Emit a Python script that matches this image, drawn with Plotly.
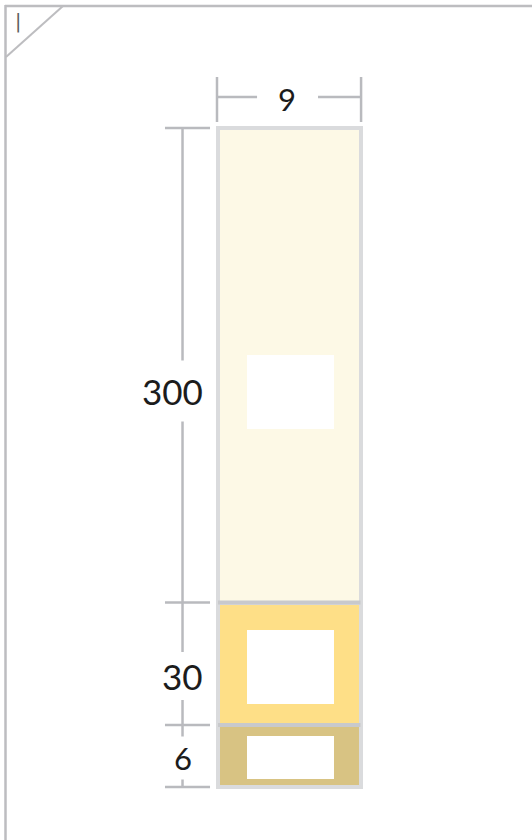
import plotly.graph_objects as go

# ---------------- data ----------------
width_label = "9"                          # column width label
segment_labels = ["6", "30", "300"]        # bottom -> top
segment_values = [6, 30, 300]
segment_heights = [62, 122.5, 474.5]       # drawn heights
inner_heights = [43, 74, 74]               # white inner windows
column = [0]

# ---------------- style ----------------
W, H = 532, 840
fills = ["#d8c383", "#fedf87", "#fdf9e6"]
border = "#dadbdd"
sep_col = "#c8c9cc"
dim_col = "#b9babe"
text_col = "#1c1c1c"
FONT = "Lato"

inner_offsets = [8, 21, 173.5]             # bottom inset of each window
label_y = [29, 111, 396]                   # label centres (data units)
label_gap = [21.5, 24, 30.5]
label_size = [31, 35, 35]

X_RANGE = [-2.0298, 1.7035]
Y_RANGE = [-53, 787]

fig = go.Figure()
for v, h, c, lab in zip(segment_values, segment_heights, fills, segment_labels):
    fig.add_trace(go.Bar(
        x=column, y=[h], width=1, name=lab,
        marker=dict(color=c, line=dict(color=border, width=4)),
        hoverinfo="skip", showlegend=False,
    ))

shapes = []
annotations = []

# cumulative boundaries
bounds = [0]
for h in segment_heights:
    bounds.append(bounds[-1] + h)

# separators
for b in bounds[1:-1]:
    shapes.append(dict(type="line", xref="x", yref="y", x0=-0.5, x1=0.5, y0=b, y1=b,
                       line=dict(color=sep_col, width=4)))

# white windows
for i, ih in enumerate(inner_heights):
    y0 = bounds[i] + inner_offsets[i]
    shapes.append(dict(type="rect", xref="x", yref="y", x0=-0.2965, x1=0.314,
                       y0=y0, y1=y0 + ih, fillcolor="white", line=dict(width=0), layer="above"))

# left dimension line
lx = -0.749
for b in bounds:
    shapes.append(dict(type="line", xref="x", yref="y", x0=-0.872, x1=-0.556, y0=b, y1=b,
                       line=dict(color=dim_col, width=2.5)))
for i in range(3):
    lo, hi = bounds[i], bounds[i + 1]
    gl, gh = label_y[i] - label_gap[i], label_y[i] + label_gap[i]
    shapes.append(dict(type="line", xref="x", yref="y", x0=lx, x1=lx, y0=lo, y1=gl,
                       line=dict(color=dim_col, width=2.5)))
    shapes.append(dict(type="line", xref="x", yref="y", x0=lx, x1=lx, y0=gh, y1=hi,
                       line=dict(color=dim_col, width=2.5)))
    if segment_labels[i] == "300":
        annotations.append(dict(xref="x", yref="y", x=-0.59, y=label_y[i], text=segment_labels[i],
                                xanchor="right", yanchor="middle", showarrow=False,
                                font=dict(family=FONT, size=label_size[i], color=text_col)))
    else:
        annotations.append(dict(xref="x", yref="y", x=lx, y=label_y[i], text=segment_labels[i],
                                xanchor="center", yanchor="middle", showarrow=False,
                                font=dict(family=FONT, size=label_size[i], color=text_col)))

# top dimension line
ty = 690
for xx in (-0.507, 0.504):
    shapes.append(dict(type="line", xref="x", yref="y", x0=xx, x1=xx, y0=665, y1=710,
                       line=dict(color=dim_col, width=2.5)))
shapes.append(dict(type="line", xref="x", yref="y", x0=-0.507, x1=-0.226, y0=ty, y1=ty,
                   line=dict(color=dim_col, width=2.5)))
shapes.append(dict(type="line", xref="x", yref="y", x0=0.202, x1=0.504, y0=ty, y1=ty,
                   line=dict(color=dim_col, width=2.5)))
annotations.append(dict(xref="x", yref="y", x=-0.014, y=688, text=width_label,
                        xanchor="center", yanchor="middle", showarrow=False,
                        font=dict(family=FONT, size=31, color=text_col)))

# outer frame (paper coords from pixels)
def px(x):
    return x / W
def py(y):
    return 1 - y / H
frame_col = "#bdbdc0"
shapes.append(dict(type="line", xref="paper", yref="paper", x0=px(5), x1=px(532), y0=py(6), y1=py(6),
                   line=dict(color=frame_col, width=2.5)))
shapes.append(dict(type="line", xref="paper", yref="paper", x0=px(5.5), x1=px(5.5), y0=py(5), y1=py(840),
                   line=dict(color=frame_col, width=2.5)))
shapes.append(dict(type="line", xref="paper", yref="paper", x0=px(6), x1=px(63), y0=py(57), y1=py(6),
                   line=dict(color=frame_col, width=2)))
annotations.append(dict(xref="paper", yref="paper", x=px(18.3), y=py(21), text="|",
                        xanchor="center", yanchor="middle", showarrow=False,
                        font=dict(family="DejaVu Sans", size=19, color="#5e5e5e")))

fig.update_layout(
    width=W, height=H,
    margin=dict(l=0, r=0, t=0, b=0, pad=0, autoexpand=False),
    paper_bgcolor="white", plot_bgcolor="white",
    barmode="stack", bargap=0,
    xaxis=dict(range=X_RANGE, visible=False, fixedrange=True),
    yaxis=dict(range=Y_RANGE, visible=False, fixedrange=True),
    shapes=shapes, annotations=annotations,
    showlegend=False,
)

fig.write_html("out.html", config={"displayModeBar": False},
               post_script="document.body.style.margin='0';document.body.style.overflow='hidden';")
